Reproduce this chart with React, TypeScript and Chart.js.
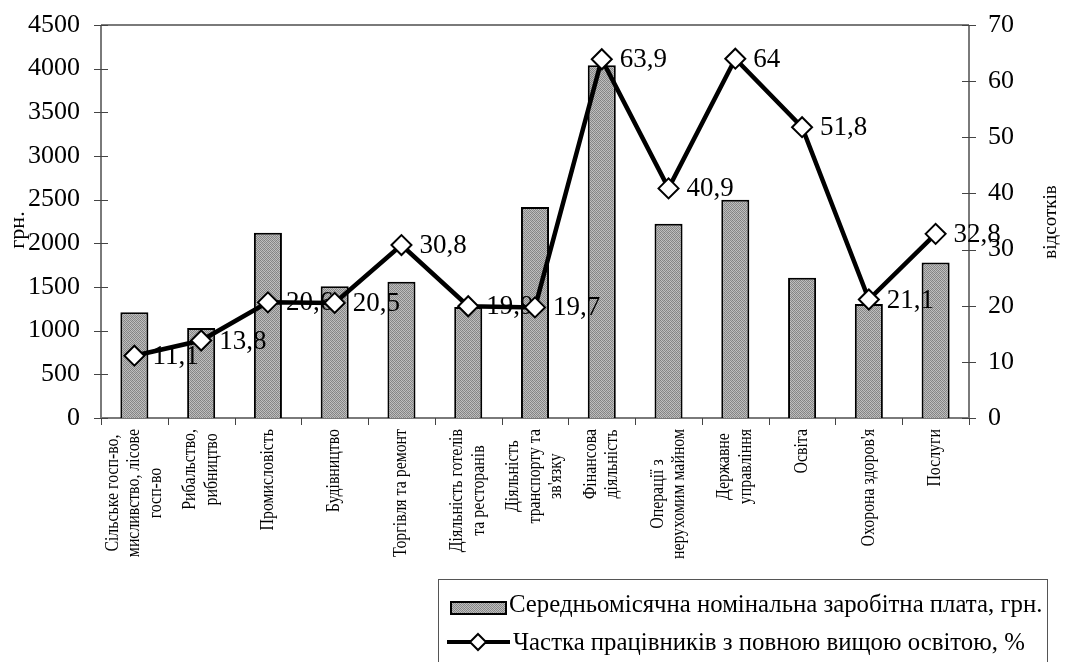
import React, { useEffect, useRef } from 'react';
import { Chart, registerables } from 'chart.js';
Chart.register(...registerables);

const categories: string[][] = [
  ['Сільське госп-во,', 'мисливство, лісове', 'госп-во'],
  ['Рибальство,', 'рибництво'],
  ['Промисловість'],
  ['Будівництво'],
  ['Торгівля та ремонт'],
  ['Діяльність готелів', 'та ресторанів'],
  ['Діяльність', 'транспорту та', "зв'язку"],
  ['Фінансова', 'діяльність'],
  ['Операції з', 'нерухомим майном'],
  ['Державне', 'управління'],
  ['Освіта'],
  ["Охорона здоров'я"],
  ['Послуги'],
];
const wages = [1210, 1030, 2120, 1510, 1560, 1270, 2415, 4040, 2225, 2500, 1605, 1305, 1780];
const shares = [11.1, 13.8, 20.6, 20.5, 30.8, 19.9, 19.7, 63.9, 40.9, 64, 51.8, 21.1, 32.8];
const wageLegend = 'Середньомісячна номінальна заробітна плата, грн.';
const shareLegend = 'Частка працівників з повною вищою освітою, %';
const leftTitle = 'грн.';
const rightTitle = 'відсотків';

const SERIF = '"Liberation Serif", "DejaVu Serif", serif';

function makePattern(): CanvasPattern | string {
  const c = document.createElement('canvas');
  c.width = 4;
  c.height = 4;
  const g = c.getContext('2d');
  if (!g) return '#9a9a9a';
  const grid = [
    ['#808080', '#c0c0c0', '#8c8c8c', '#b4b4b4'],
    ['#b8b8b8', '#888888', '#c4c4c4', '#848484'],
    ['#8a8a8a', '#bcbcbc', '#828282', '#c0c0c0'],
    ['#c2c2c2', '#868686', '#b6b6b6', '#8e8e8e'],
  ];
  for (let y = 0; y < 4; y++) {
    for (let x = 0; x < 4; x++) {
      g.fillStyle = grid[y][x];
      g.fillRect(x, y, 1, 1);
    }
  }
  const p = g.createPattern(c, 'repeat');
  return p || '#9a9a9a';
}

export default function App() {
  const ref = useRef<HTMLCanvasElement | null>(null);

  useEffect(() => {
    const canvas = ref.current;
    if (!canvas) return;
    const pattern = makePattern();

    const framePlugin = {
      id: 'framePlugin',
      beforeDatasetsDraw(chart: any) {
        const { ctx, chartArea } = chart;
        const xs = chart.scales.x;
        const y = chart.scales.y;
        const y1 = chart.scales.y1;
        ctx.save();
        // category labels
        ctx.fillStyle = '#000';
        ctx.font = `18px ${SERIF}`;
        ctx.textBaseline = 'middle';
        ctx.textAlign = 'center';
        const lh = 21.5;
        const sx = 0.88;
        categories.forEach((lines, i) => {
          const cx = xs.getPixelForValue(i);
          const w = Math.max(...lines.map((l) => ctx.measureText(l).width)) * sx;
          const top = chartArea.bottom + 11;
          ctx.save();
          ctx.translate(cx, top + w / 2);
          ctx.rotate(-Math.PI / 2);
          ctx.scale(sx, 1);
          lines.forEach((l, k) => {
            ctx.fillText(l, 0, (k - (lines.length - 1) / 2) * lh);
          });
          ctx.restore();
        });
        // frame lines
        ctx.strokeStyle = '#7a7a7a';
        ctx.lineWidth = 2;
        ctx.beginPath();
        ctx.moveTo(chartArea.left, chartArea.top);
        ctx.lineTo(chartArea.right, chartArea.top);
        ctx.moveTo(chartArea.left, chartArea.top);
        ctx.lineTo(chartArea.left, chartArea.bottom);
        ctx.moveTo(chartArea.right, chartArea.top);
        ctx.lineTo(chartArea.right, chartArea.bottom);
        ctx.moveTo(chartArea.left, chartArea.bottom);
        ctx.lineTo(chartArea.right, chartArea.bottom);
        ctx.stroke();
        // tick marks
        ctx.strokeStyle = '#444';
        ctx.lineWidth = 1;
        ctx.beginPath();
        y.ticks.forEach((t: any) => {
          const py = Math.round(y.getPixelForValue(t.value)) + 0.5;
          ctx.moveTo(chartArea.left - 7, py);
          ctx.lineTo(chartArea.left + 7, py);
        });
        y1.ticks.forEach((t: any) => {
          const py = Math.round(y1.getPixelForValue(t.value)) + 0.5;
          ctx.moveTo(chartArea.right - 7, py);
          ctx.lineTo(chartArea.right + 7, py);
        });
        for (let i = 0; i <= categories.length; i++) {
          const px = Math.round(xs.getPixelForValue(i - 0.5)) + 0.5;
          ctx.moveTo(px, chartArea.bottom);
          ctx.lineTo(px, chartArea.bottom + 7);
        }
        ctx.stroke();
        // axis titles
        ctx.fillStyle = '#000';
        ctx.font = `22px ${SERIF}`;
        ctx.textAlign = 'center';
        ctx.textBaseline = 'middle';
        ctx.save();
        ctx.translate(18, 230);
        ctx.rotate(-Math.PI / 2);
        ctx.fillText(leftTitle, 0, 0);
        ctx.restore();
        ctx.font = `19px ${SERIF}`;
        ctx.save();
        ctx.translate(1051, 222);
        ctx.rotate(-Math.PI / 2);
        ctx.fillText(rightTitle, 0, 0);
        ctx.restore();
        ctx.restore();
      },
      afterDatasetDraw(chart: any, args: any) {
        if (args.index !== 1) return;
        const { ctx } = chart;
        const meta = chart.getDatasetMeta(0);
        ctx.save();
        ctx.fillStyle = '#000';
        ctx.font = `27px ${SERIF}`;
        ctx.textAlign = 'left';
        ctx.textBaseline = 'middle';
        meta.data.forEach((pt: any, i: number) => {
          ctx.fillText(String(shares[i]).replace('.', ','), pt.x + 18, pt.y + 1);
        });
        ctx.restore();
      },
      afterDraw(chart: any) {
        const { ctx } = chart;
        ctx.save();
        ctx.strokeStyle = '#555';
        ctx.lineWidth = 1;
        ctx.strokeRect(438.5, 579.5, 609, 120);
        // bar item
        ctx.fillStyle = pattern as any;
        ctx.fillRect(451, 602, 55, 12);
        ctx.strokeStyle = '#000';
        ctx.lineWidth = 2;
        ctx.strokeRect(451, 602, 55, 12);
        ctx.fillStyle = '#000';
        ctx.font = `24.8px ${SERIF}`;
        ctx.textAlign = 'left';
        ctx.textBaseline = 'middle';
        ctx.fillText(wageLegend, 509, 605);
        // line item
        ctx.lineWidth = 4;
        ctx.beginPath();
        ctx.moveTo(447, 642);
        ctx.lineTo(510, 642);
        ctx.stroke();
        ctx.fillStyle = '#fff';
        ctx.lineWidth = 2;
        ctx.beginPath();
        ctx.moveTo(478, 634);
        ctx.lineTo(486, 642);
        ctx.lineTo(478, 650);
        ctx.lineTo(470, 642);
        ctx.closePath();
        ctx.fill();
        ctx.stroke();
        ctx.fillStyle = '#000';
        ctx.fillText(shareLegend, 513, 643);
        ctx.restore();
      },
    };

    const fitY = (w: number) => (s: any) => {
      s.width = w;
      s.paddingTop = 0;
      s.paddingBottom = 0;
    };

    const chart = new Chart(canvas, {
      type: 'bar',
      data: {
        labels: categories.map((c) => c.join(' ')),
        datasets: [
          {
            type: 'line',
            label: shareLegend,
            data: shares,
            yAxisID: 'y1',
            borderColor: '#000',
            borderWidth: 4.5,
            pointStyle: 'rectRot',
            pointRadius: 10,
            pointBackgroundColor: '#fff',
            pointBorderColor: '#000',
            pointBorderWidth: 2,
            tension: 0,
            order: 0,
          } as any,
          {
            type: 'bar',
            label: wageLegend,
            data: wages,
            yAxisID: 'y',
            backgroundColor: pattern as any,
            borderColor: '#000',
            borderWidth: 2,
            categoryPercentage: 1,
            barPercentage: 0.42,
            order: 1,
          } as any,
        ],
      },
      options: {
        responsive: false,
        animation: false,
        events: [],
        layout: { padding: { top: 25, left: 0, right: 0, bottom: 0 } },
        plugins: {
          legend: { display: false },
          tooltip: { enabled: false },
          title: { display: false },
        },
        scales: {
          x: {
            offset: true,
            grid: { display: false },
            border: { display: false },
            ticks: { display: false },
            afterFit: (s: any) => {
              s.height = 244;
            },
          },
          y: {
            position: 'left',
            min: 0,
            max: 4500,
            grid: { display: false },
            border: { display: false },
            ticks: {
              stepSize: 500,
              padding: 13,
              color: '#000',
              font: { family: SERIF, size: 26 },
              callback: (v: any) => String(v),
            },
            afterFit: fitY(101),
          },
          y1: {
            position: 'right',
            min: 0,
            max: 70,
            grid: { display: false },
            border: { display: false },
            ticks: {
              stepSize: 10,
              padding: 11,
              color: '#000',
              font: { family: SERIF, size: 26 },
              callback: (v: any) => String(v),
            },
            afterFit: fitY(99),
          },
        },
      },
      plugins: [framePlugin],
    });
    return () => chart.destroy();
  }, []);

  return (
    <div style={{ position: 'absolute', left: 0, top: 0, width: 1068, height: 662, background: '#fff' }}>
      <canvas ref={ref} width={1068} height={662} style={{ width: 1068, height: 662, display: 'block' }} />
    </div>
  );
}
